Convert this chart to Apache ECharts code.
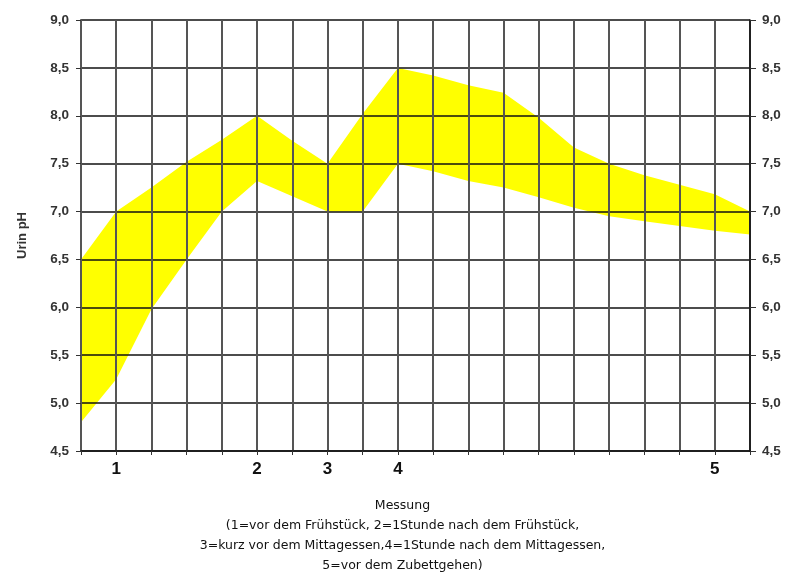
<!DOCTYPE html>
<html>
<head>
<meta charset="utf-8">
<script src="https://cdn.jsdelivr.net/npm/echarts@6/dist/echarts.min.js"></script>
<style>
  html, body { margin: 0; padding: 0; background: #fff; }
  #chart { width: 794px; height: 581px; }
</style>
</head>
<body>
<div id="chart"></div>
<script>
// Messpunkte (20 Rasterlinien), nur einige beschriftet
const xLabels = ['', '1', '', '', '', '2', '', '3', '', '4', '', '', '', '', '', '', '', '', '5', ''];
// untere und obere Grenze des gelben Bandes (Urin pH)
const lowerPH = [4.8, 5.25, 5.98, 6.5, 7.0, 7.32, 7.16, 7.0, 7.0, 7.5, 7.42, 7.32, 7.25, 7.15, 7.04, 6.95, 6.9, 6.85, 6.8, 6.76];
const upperPH = [6.5, 7.0, 7.25, 7.52, 7.75, 8.0, 7.74, 7.5, 8.02, 8.5, 8.42, 8.32, 8.24, 7.98, 7.67, 7.5, 7.38, 7.28, 7.18, 7.0];
const yMin = 4.5;
const yMax = 9.0;
const yStep = 0.5;

const xName = 'Messung\n(1=vor dem Frühstück, 2=1Stunde nach dem Frühstück,\n3=kurz vor dem Mittagessen,4=1Stunde nach dem Mittagessen,\n5=vor dem Zubettgehen)';

const chart = echarts.init(document.getElementById('chart'));

const bandWidth = upperPH.map((v, i) => +(v - lowerPH[i]).toFixed(3));
const fmt = (v) => v.toFixed(1).replace('.', ',');

const yLabelStyle = {
  color: '#333',
  fontWeight: 'bold',
  fontSize: 13.5,
  fontFamily: 'Liberation Sans, Arial, sans-serif',
  formatter: fmt
};

const option = {
  backgroundColor: '#fff',
  animation: false,
  grid: { left: 81, right: 44, top: 20, bottom: 129 },
  xAxis: {
    type: 'category',
    data: xLabels,
    boundaryGap: false,
    z: 5,
    axisLine: { lineStyle: { color: '#111', width: 1.5 } },
    axisTick: { show: true, interval: 0, length: 4, lineStyle: { color: '#333' } },
    axisLabel: {
      interval: 0,
      margin: 10,
      color: '#111',
      fontSize: 17,
      fontWeight: 'bold',
      fontFamily: 'Liberation Sans, Arial, sans-serif'
    },
    splitLine: { show: true, interval: 0, lineStyle: { color: '#555', width: 2 } },
    name: xName,
    nameLocation: 'middle',
    nameGap: 45,
    nameTextStyle: {
      color: '#111',
      fontSize: 12.5,
      lineHeight: 20,
      fontFamily: 'DejaVu Sans, sans-serif',
      padding: [0, 26, 0, 0]
    }
  },
  yAxis: [{
    type: 'value',
    min: yMin,
    max: yMax,
    interval: yStep,
    position: 'left',
    z: 5,
    axisLine: { show: true, lineStyle: { color: '#555', width: 2 } },
    axisTick: { show: true, length: 5, lineStyle: { color: '#333' } },
    axisLabel: Object.assign({ margin: 12 }, yLabelStyle),
    splitLine: { show: true, lineStyle: { color: '#111', width: 1.5 } },
    name: 'Urin pH',
    nameLocation: 'middle',
    nameGap: 52,
    nameTextStyle: {
      color: '#333',
      fontWeight: 'bold',
      fontSize: 13,
      fontFamily: 'Liberation Sans, Arial, sans-serif'
    }
  }, {
    type: 'value',
    min: yMin,
    max: yMax,
    interval: yStep,
    position: 'right',
    z: 5,
    axisLine: { show: true, lineStyle: { color: '#111', width: 1.5 } },
    axisTick: { show: true, length: 6, lineStyle: { color: '#333' } },
    axisLabel: Object.assign({ margin: 12 }, yLabelStyle),
    splitLine: { show: false }
  }],
  series: [{
    name: 'unten',
    type: 'line',
    stack: 'band',
    data: lowerPH,
    symbol: 'none',
    lineStyle: { width: 0, opacity: 0 },
    silent: true
  }, {
    name: 'Band',
    type: 'line',
    stack: 'band',
    data: bandWidth,
    symbol: 'none',
    lineStyle: { width: 0, opacity: 0 },
    areaStyle: { color: '#ffff00', opacity: 1 },
    silent: true
  }]
};

chart.setOption(option);
</script>
</body>
</html>
